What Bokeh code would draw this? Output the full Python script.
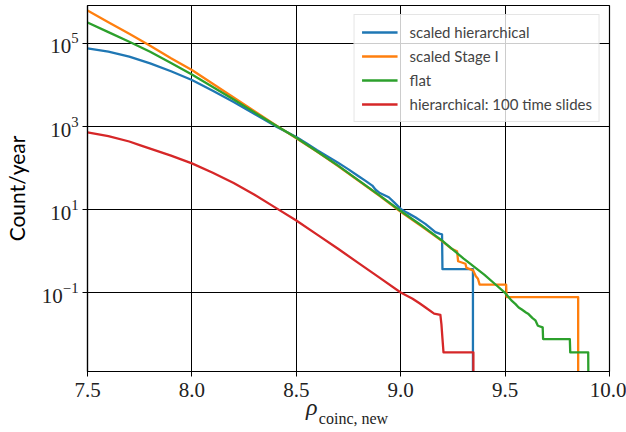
import numpy as np
from bokeh.plotting import figure
from bokeh.models import (FixedTicker, Legend, LegendItem, Range1d, LinearAxis,
                          PrintfTickFormatter)
from bokeh.embed import file_html
from bokeh.resources import INLINE

# ---- data (x = rho, values = log10 of count/year) ----
rho_hier = [7.5, 7.6, 7.7, 7.8, 7.9, 8.0, 8.1, 8.2, 8.3, 8.4, 8.5, 8.55, 8.6, 8.65,
            8.7, 8.722, 8.75, 8.8, 8.83, 8.864, 8.88, 8.9, 8.943, 8.97, 9.0, 9.03,
            9.07, 9.1, 9.118, 9.14, 9.166, 9.189, 9.198, 9.2, 9.346, 9.346]
logc_hier = [4.88, 4.80, 4.68, 4.52, 4.33, 4.12, 3.86, 3.59, 3.30, 3.01, 2.75, 2.59, 2.43, 2.28,
             2.13, 2.06, 1.97, 1.80, 1.70, 1.58, 1.48, 1.40, 1.30, 1.17, 1.02, 0.93,
             0.82, 0.72, 0.66, 0.57, 0.46, 0.42, 0.41, -0.43, -0.43, -4.0]

rho_stage1 = [7.5, 7.6, 7.7, 7.8, 7.9, 8.0, 8.1, 8.2, 8.3, 8.4, 8.5, 8.6, 8.7, 8.8, 8.9,
              9.0, 9.1, 9.2, 9.244, 9.27, 9.275, 9.31, 9.315, 9.347, 9.36, 9.37, 9.378,
              9.505, 9.507, 9.85, 9.85]
logc_stage1 = [5.79, 5.51, 5.23, 4.94, 4.64, 4.36, 4.03, 3.70, 3.37, 3.04, 2.72, 2.39, 2.05, 1.69, 1.33,
               0.95, 0.60, 0.24, 0.06, 0.0, -0.24, -0.30, -0.40, -0.46, -0.60, -0.66, -0.80,
               -0.80, -1.10, -1.10, -4.0]

rho_flat = [7.5, 7.6, 7.7, 7.8, 7.9, 8.0, 8.1, 8.2, 8.3, 8.4, 8.5, 8.6, 8.7, 8.8, 8.9,
            9.0, 9.1, 9.2, 9.3, 9.4, 9.45, 9.5, 9.53, 9.55, 9.565, 9.58, 9.6, 9.61, 9.63,
            9.645, 9.657, 9.68, 9.682, 9.81, 9.812, 9.898, 9.9]
logc_flat = [5.50, 5.27, 5.04, 4.80, 4.53, 4.25, 3.95, 3.65, 3.34, 3.03, 2.73, 2.40, 2.06, 1.70, 1.34,
             0.97, 0.62, 0.25, -0.17, -0.56, -0.78, -1.00, -1.18, -1.27, -1.35, -1.40, -1.47, -1.50, -1.60,
             -1.66, -1.79, -1.83, -2.11, -2.11, -2.43, -2.43, -4.0]

rho_slides = [7.5, 7.6, 7.7, 7.75, 7.8, 7.9, 8.0, 8.1, 8.2, 8.3, 8.4, 8.5, 8.6, 8.7, 8.8, 8.9,
              9.0, 9.057, 9.09, 9.119, 9.16, 9.19, 9.195, 9.2, 9.205, 9.348, 9.348]
logc_slides = [2.86, 2.77, 2.64, 2.555, 2.47, 2.30, 2.115, 1.89, 1.64, 1.36, 1.05, 0.74, 0.40, 0.06,
               -0.29, -0.64, -0.99, -1.14, -1.25, -1.35, -1.50, -1.53, -1.75, -2.10, -2.43, -2.43, -4.0]

series_names = ["scaled hierarchical", "scaled Stage I", "flat", "hierarchical: 100 time slides"]
series_colors = ["#1f77b4", "#ff7f0e", "#2ca02c", "#d62728"]

x_ticks = [7.5, 8.0, 8.5, 9.0, 9.5, 10.0]
y_ticks = [1e-1, 1e1, 1e3, 1e5]
x_title_symbol = "ρ"
x_title_subscript = "coinc, new"
y_title = "Count/year"

p = figure(width=626, height=432, y_axis_type="log",
           x_range=Range1d(7.5, 10.0), y_range=Range1d(10 ** -2.89, 10 ** 5.91),
           output_backend="svg", toolbar_location=None,
           min_border_left=83, min_border_right=17, min_border_top=5, min_border_bottom=61)
p.background_fill_color = "white"
p.border_fill_color = "white"
p.outline_line_color = "black"
p.outline_line_width = 1.2
p.outline_line_alpha = 1.0

renderers = []
for xs, ls, c in [(rho_hier, logc_hier, series_colors[0]),
                  (rho_stage1, logc_stage1, series_colors[1]),
                  (rho_flat, logc_flat, series_colors[2]),
                  (rho_slides, logc_slides, series_colors[3])]:
    ys = [10.0 ** v for v in ls]
    r = p.line(xs, ys, line_color=c, line_width=2.3, line_join="round")
    renderers.append(r)

p.xaxis.ticker = FixedTicker(ticks=x_ticks)
p.yaxis.ticker = FixedTicker(ticks=y_ticks)
p.xgrid.ticker = FixedTicker(ticks=x_ticks)
p.ygrid.ticker = FixedTicker(ticks=y_ticks)
for g in (p.xgrid, p.ygrid):
    g.grid_line_color = "black"
    g.grid_line_width = 1.0
    g.grid_line_alpha = 1.0

for ax in (p.xaxis, p.yaxis):
    ax.axis_line_color = "black"
    ax.axis_line_width = 1.2
    ax.major_tick_line_color = "black"
    ax.major_tick_line_width = 1.0
    ax.major_tick_out = 5
    ax.major_tick_in = 0
    ax.minor_tick_line_color = None
    ax.major_label_text_font = "Liberation Serif"
    ax.major_label_text_font_size = "21px"
    ax.major_label_text_color = "#222222"
p.xaxis.major_label_standoff = 6
p.yaxis.major_label_standoff = 4
p.xaxis.formatter = PrintfTickFormatter(format="%.1f")

p.yaxis.axis_label = y_title
p.yaxis.axis_label_text_font = "Lato"
p.yaxis.axis_label_text_font_size = "21px"
p.yaxis.axis_label_text_font_style = "normal"
p.yaxis.axis_label_text_color = "black"
p.yaxis.axis_label_standoff = 10

# x title: symbol and subscript as two extra label-only axes below the main one
sym_axis = LinearAxis(ticker=FixedTicker(ticks=[8.574]),
                      major_label_overrides={8.574: x_title_symbol})
sub_axis = LinearAxis(ticker=FixedTicker(ticks=[8.774]),
                      major_label_overrides={8.774: x_title_subscript})
for ax, size, style, standoff in [(sym_axis, "24px", "italic", -6),
                                  (sub_axis, "16px", "normal", -13)]:
    ax.axis_line_color = None
    ax.major_tick_line_color = None
    ax.minor_tick_line_color = None
    ax.major_tick_out = 0
    ax.major_tick_in = 0
    ax.major_label_standoff = standoff
    ax.major_label_text_font = "Liberation Serif"
    ax.major_label_text_font_size = size
    ax.major_label_text_font_style = style
    ax.major_label_text_color = "#222222"
    p.add_layout(ax, "below")

legend = Legend(items=[LegendItem(label=n, renderers=[r]) for n, r in zip(series_names, renderers)],
                location="top_right", margin=9, padding=7, spacing=4,
                glyph_width=36, glyph_height=20, label_height=20, label_standoff=12,
                label_text_font="Lato", label_text_font_size="15px",
                background_fill_color="white", background_fill_alpha=0.8,
                border_line_color="#cccccc", border_line_width=1)
p.add_layout(legend)

open("out.html", "w").write(file_html(p, INLINE))
